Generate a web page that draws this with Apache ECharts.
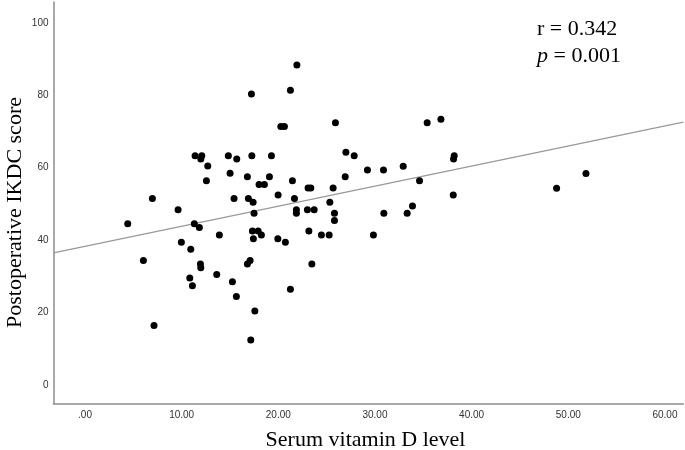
<!DOCTYPE html>
<html>
<head>
<meta charset="utf-8">
<script src="https://cdn.jsdelivr.net/npm/echarts@6/dist/echarts.min.js"></script>
<style>html,body{margin:0;padding:0;background:#fff;}#c{width:685px;height:450px;}</style>
</head>
<body>
<div id="c"></div>
<script>
// Serum vitamin D level (x) and Postoperative IKDC score (y)
var vitaminD = [11.39,12.08,11.98,14.83,15.70,12.70,15.01,12.56,6.97,15.42,9.63,4.42,11.31,11.83,13.90,9.97,10.94,6.04,11.94,11.98,10.84,13.63,15.25,11.11,15.66,7.14,17.26,19.29,26.99,27.85,38.20,38.13,16.80,19.08,18.01,18.56,21.46,26.92,29.22,30.88,32.92,34.61,23.08,23.36,25.67,19.98,16.90,17.39,21.67,25.33,38.10,17.49,21.87,21.87,23.01,23.71,25.81,25.81,30.92,33.33,33.88,17.32,17.91,18.25,17.42,19.95,20.73,23.16,24.46,25.26,29.84,17.08,16.80,23.47,21.25,17.57,17.15,21.92,17.22,21.25,20.26,20.63,25.91,35.40,36.82,51.83,48.79];
var ikdcScore = [63.3,63.3,62.4,63.3,62.4,60.5,58.5,56.4,51.5,51.5,48.4,44.5,44.5,43.5,41.4,39.4,37.5,34.4,33.4,32.4,29.5,30.5,28.5,27.4,24.4,16.4,63.3,63.3,64.3,63.3,63.3,62.4,57.5,57.5,55.4,55.4,56.4,57.5,59.4,59.4,60.4,56.4,54.4,54.4,54.4,52.5,51.5,50.5,51.5,50.5,52.5,47.4,48.4,47.4,48.4,48.4,47.4,45.4,47.4,47.4,49.4,42.5,42.5,41.4,40.4,40.4,39.4,42.5,41.4,41.4,41.4,34.4,33.4,33.4,26.4,20.4,12.4,88.4,80.4,81.4,71.4,71.4,72.4,72.4,73.4,58.4,54.3];
// Fitted line
var fitIntercept = 38.3;
var fitSlope = 0.554;
var xTicks = [0,10,20,30,40,50,60];
var yTicks = [0,20,40,60,80,100];
var xRange = [-3.26, 61.9];
var yRange = [-5.2, 105.8];
var annotR = 'r = 0.342';
var annotP = '0.001';
var xTitle = 'Serum vitamin D level';
var yTitle = 'Postoperative IKDC score';

var points = vitaminD.map(function(x,i){return [x, ikdcScore[i]];});
var fitData = [[xRange[0], fitIntercept + fitSlope*xRange[0]], [xRange[1], fitIntercept + fitSlope*xRange[1]]];

var chart = echarts.init(document.getElementById('c'), null, {renderer:'canvas'});
var serif = '"Liberation Serif", "Times New Roman", serif';
var sans = '"Liberation Sans", Arial, sans-serif';
chart.setOption({
  animation:false,
  backgroundColor:'#fff',
  grid:{left:53.5, right:1.7, top:2, bottom:46.3, containLabel:false},
  xAxis:{
    type:'value', min:xRange[0], max:xRange[1],
    axisLine:{show:true, onZero:false, lineStyle:{color:'#8c8c8c', width:1.5}},
    axisTick:{show:false},
    splitLine:{show:false},
    axisLabel:{customValues:xTicks, margin:7, color:'#333', fontSize:10, fontFamily:sans,
      formatter:function(v){return v===0?'.00':v.toFixed(2);}}
  },
  yAxis:{
    type:'value', min:yRange[0], max:yRange[1],
    axisLine:{show:true, onZero:false, lineStyle:{color:'#8c8c8c', width:1.5}},
    axisTick:{show:false},
    splitLine:{show:false},
    axisLabel:{customValues:yTicks, margin:5, color:'#333', fontSize:10, fontFamily:sans}
  },
  series:[
    {type:'line', data:fitData, symbol:'none', silent:true, z:1,
      lineStyle:{color:'#999', width:1.2}},
    {type:'scatter', data:points, symbol:'circle', symbolSize:7, z:2,
      itemStyle:{color:'#000', opacity:1}}
  ],
  graphic:[
    {type:'text', left:537, top:18, style:{text:annotR, font:'22px '+serif, fill:'#000'}},
    {type:'text', left:537, top:45, style:{text:'{i|p} = '+annotP, font:'22px '+serif, fill:'#000',
      rich:{i:{fontStyle:'italic', fontSize:22, fontFamily:serif}}}},
    {type:'text', x:365.5, y:440, style:{text:xTitle, font:'22px '+serif, fill:'#000', align:'center', verticalAlign:'middle'}},
    {type:'text', x:15.5, y:212.5, rotation:Math.PI/2, style:{text:yTitle, font:'22px '+serif, fill:'#000', align:'center', verticalAlign:'middle'}}
  ]
});
</script>
</body>
</html>
